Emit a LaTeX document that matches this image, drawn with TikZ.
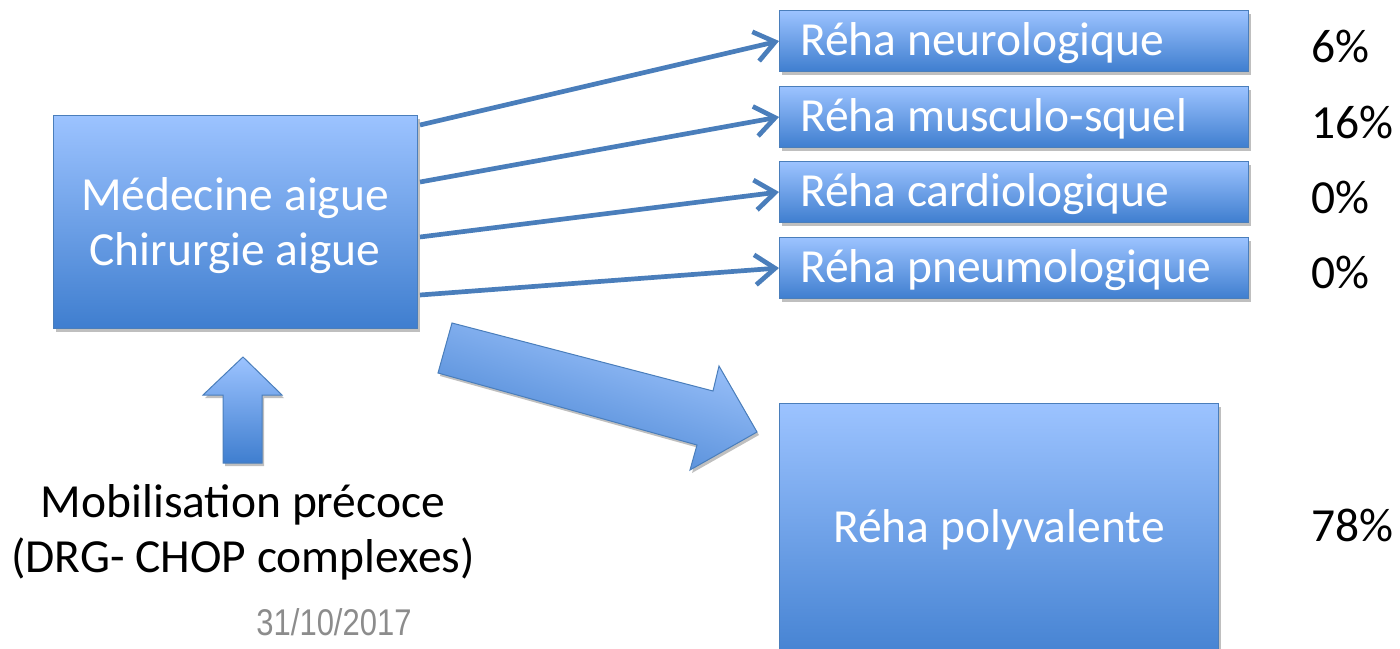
\documentclass[tikz,border=0pt]{standalone}
\usepackage{fontspec}
\setmainfont{Carlito}
\newfontfamily\datefont{Liberation Sans}
\usetikzlibrary{arrows.meta,shadows}
\definecolor{boxtop}{HTML}{9CC3FF}
\definecolor{boxbot}{HTML}{3F7ECF}
\definecolor{boxline}{HTML}{4A7EBB}
\definecolor{datecol}{HTML}{8C8C8C}
\tikzset{
  blue box/.style={draw=boxline, line width=1pt, top color=boxtop, bottom color=boxbot,
    drop shadow={shadow xshift=2pt, shadow yshift=-3pt, opacity=0.25, fill=black}},
  rehabox/.style={blue box, minimum width=469pt, minimum height=61pt, inner sep=0pt, anchor=north west},
  big/.style={font=\fontsize{47.5}{57}\selectfont, inner sep=0pt},
  rehatext/.style={big, anchor=base west, text=white},
  pct/.style={big, anchor=base west, text=black},
  link/.style={draw=boxline, line width=4.7pt, -{Straight Barb[length=20pt,width=30pt,line width=4.7pt]}},
}
\begin{document}
\begin{tikzpicture}[x=1pt,y=-1pt]
\useasboundingbox (0,0) rectangle (1400,648);
\clip (0,0) rectangle (1400,648);
% main box
\node[blue box, minimum width=364pt, minimum height=213pt, anchor=north west, inner sep=0pt] (acute) at (53,115) {};
\node[big, anchor=base, text=white] (acute1) at (235,210) {Médecine aigue};
\node[big, anchor=base, text=white] (acute2) at (235,265) {Chirurgie aigue};
% rehab boxes
\node[rehabox] (neuro) at (779,10) {};
\node[rehabox] (musc) at (779,86) {};
\node[rehabox] (cardio) at (779,161) {};
\node[rehabox] (pneumo) at (779,237) {};
\node[rehatext] (t1) at ([shift={(21pt,-45pt)}]neuro.north west) {Réha neurologique};
\node[rehatext] (t2) at ([shift={(21pt,-45pt)}]musc.north west) {Réha musculo-squel};
\node[rehatext] (t3) at ([shift={(21pt,-45pt)}]cardio.north west) {Réha cardiologique};
\node[rehatext] (t4) at ([shift={(21pt,-45pt)}]pneumo.north west) {Réha pneumologique};
% big box
\node[blue box, minimum width=439pt, minimum height=270pt, anchor=north west, inner sep=0pt] (poly) at (779,403) {};
\node[big, anchor=base, text=white] (polytxt) at (999,542) {Réha polyvalente};
% percentages
\node[pct] (p1) at (1311,62) {6\%};
\node[pct] (p2) at (1311,138) {16\%};
\node[pct] (p3) at (1311,213) {0\%};
\node[pct] (p4) at (1311,288) {0\%};
\node[pct] (p5) at (1311,541) {78\%};
% connectors
\coordinate (s1) at (420,125);
\coordinate (s2) at (420,182);
\coordinate (s3) at (420,237);
\coordinate (s4) at (420,295);
\draw[link] (s1) -- (neuro.west);
\draw[link] (s2) -- (musc.west);
\draw[link] (s3) -- (cardio.west);
\draw[link] (s4) -- (pneumo.west);
% big block arrow
\draw[draw=boxline, line width=1pt, top color=boxtop!90!white, bottom color=boxbot, shading angle=-18,
  drop shadow={shadow xshift=2pt, shadow yshift=-3pt, opacity=0.25, fill=black}]
  (452,323) -- (713,391) -- (719,366) -- (757,432) -- (690,470) -- (697,445) -- (438,373) -- cycle;
% up arrow
\draw[draw=boxline, line width=1pt, top color=boxtop, bottom color=boxbot,
  drop shadow={shadow xshift=2pt, shadow yshift=-3pt, opacity=0.25, fill=black}]
  (243,357) -- (282,395) -- (262,395) -- (262,463) -- (223,463) -- (223,395) -- (203,395) -- cycle;
% bottom texts
\node[big, anchor=base, text=black] (mob1) at (243,517) {Mobilisation précoce};
\node[big, anchor=base, text=black] (mob2) at (243,572) {(DRG- CHOP complexes)};
\node[font=\datefont\fontsize{31}{36}\selectfont, text=datecol, anchor=base, inner sep=0pt] (date) at (334,635)
  {\scalebox{1}[1.2]{31/10/2017}};
\end{tikzpicture}
\end{document}
